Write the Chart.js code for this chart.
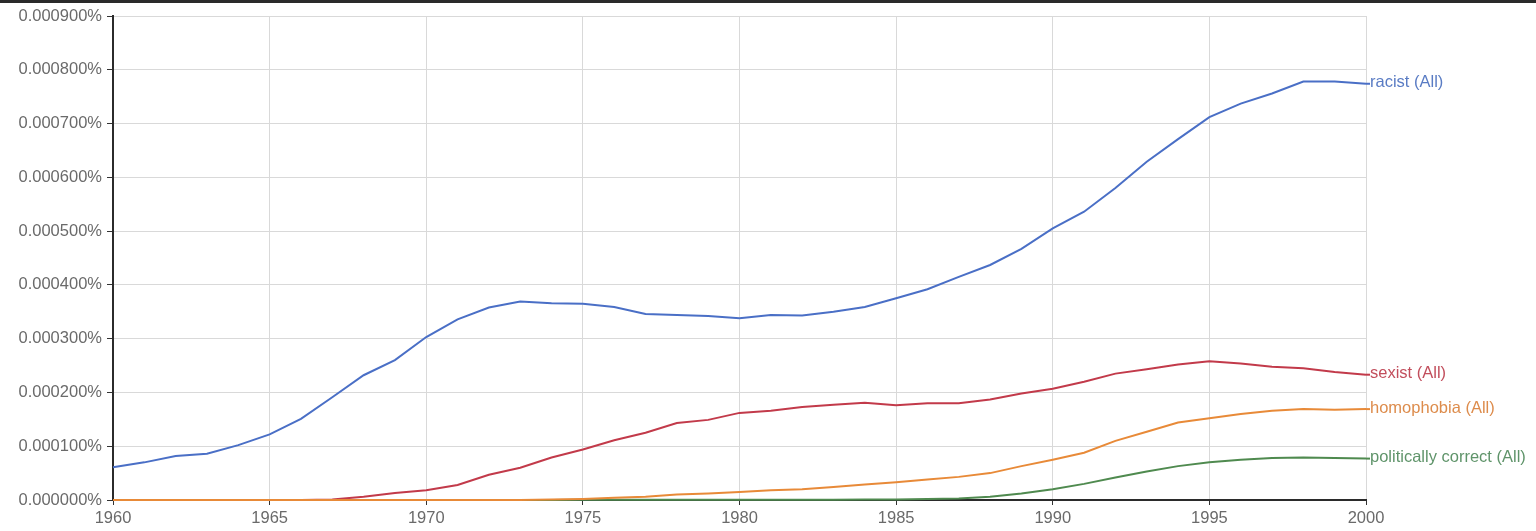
<!DOCTYPE html>
<html>
<head>
<meta charset="utf-8">
<script src="https://cdn.jsdelivr.net/npm/chart.js@4.4.1/dist/chart.umd.min.js"></script>
<style>
  html, body { margin: 0; padding: 0; background: #fff; overflow: hidden; }
  #wrap { width: 1536px; height: 531px; position: relative; }
</style>
</head>
<body>
<div id="wrap"><canvas id="ngram" width="1536" height="531"></canvas></div>
<script>
// years on the x axis
const years = [];
for (let y = 1960; y <= 2000; y++) years.push(y);

// values in percent
const racist = [
  0.0000610, 0.0000700, 0.0000820, 0.0000860, 0.0001020, 0.0001220, 0.0001510, 0.0001910, 0.0002320, 0.0002600,
  0.0003030, 0.0003360, 0.0003580, 0.0003690, 0.0003660, 0.0003650, 0.0003590, 0.0003460, 0.0003440, 0.0003420,
  0.0003380, 0.0003440, 0.0003430, 0.0003500, 0.0003590, 0.0003750, 0.0003920, 0.0004150, 0.0004370, 0.0004670,
  0.0005050, 0.0005360, 0.0005800, 0.0006290, 0.0006710, 0.0007120, 0.0007370, 0.0007560, 0.0007780, 0.0007780,
  0.0007740
];
const sexist = [
  0, 0, 0, 0, 0, 0, 0, 0.0000010, 0.0000060, 0.0000130,
  0.0000180, 0.0000280, 0.0000470, 0.0000600, 0.0000790, 0.0000940, 0.0001110, 0.0001250, 0.0001430, 0.0001490,
  0.0001620, 0.0001660, 0.0001730, 0.0001770, 0.0001810, 0.0001760, 0.0001800, 0.0001800, 0.0001870, 0.0001980,
  0.0002070, 0.0002200, 0.0002350, 0.0002430, 0.0002520, 0.0002580, 0.0002540, 0.0002480, 0.0002450, 0.0002380,
  0.0002330
];
const homophobia = [
  0, 0, 0, 0, 0, 0, 0, 0, 0, 0,
  0, 0, 0, 0, 0.0000010, 0.0000020, 0.0000040, 0.0000060, 0.0000100, 0.0000120,
  0.0000150, 0.0000180, 0.0000200, 0.0000240, 0.0000290, 0.0000330, 0.0000380, 0.0000430, 0.0000500, 0.0000630,
  0.0000750, 0.0000880, 0.0001100, 0.0001270, 0.0001440, 0.0001520, 0.0001600, 0.0001660, 0.0001690, 0.0001680,
  0.0001690
];
const politicallyCorrect = [
  0, 0, 0, 0, 0, 0, 0, 0, 0, 0,
  0, 0, 0, 0, 0, 0.0000005, 0.0000005, 0.0000005, 0.0000005, 0.0000005,
  0.0000005, 0.0000005, 0.0000005, 0.0000005, 0.0000008, 0.0000010, 0.0000020, 0.0000030, 0.0000060, 0.0000120,
  0.0000200, 0.0000300, 0.0000420, 0.0000530, 0.0000630, 0.0000700, 0.0000750, 0.0000780, 0.0000790, 0.0000780,
  0.0000770
];

const seriesNames = ["racist (All)", "sexist (All)", "homophobia (All)", "politically correct (All)"];
const seriesData = [racist, sexist, homophobia, politicallyCorrect];
const lineColors = ["#4a6fc6", "#c23a4a", "#e88a38", "#4f8a4f"];
const textColors = ["#5a7cc4", "#c24e5c", "#dd8c4c", "#5f946a"];
const drawOrder = [1, 2, 0, 3];

const FONT = "'Liberation Sans', Arial, sans-serif";

// dark strip along the top edge of the screenshot
const topStrip = {
  id: "topStrip",
  beforeDraw(chart) {
    const ctx = chart.ctx;
    ctx.save();
    ctx.fillStyle = "#2a2a2a";
    ctx.fillRect(0, 0, chart.width, 3);
    ctx.restore();
  }
};

// label at the right end of each line
const endLabels = {
  id: "endLabels",
  afterDatasetsDraw(chart) {
    const ctx = chart.ctx;
    ctx.save();
    ctx.font = "16.5px " + FONT;
    ctx.textBaseline = "middle";
    chart.data.datasets.forEach((ds, i) => {
      const meta = chart.getDatasetMeta(i);
      const pt = meta.data[meta.data.length - 1];
      if (!pt) return;
      ctx.strokeStyle = ds.borderColor;
      ctx.lineWidth = 2;
      ctx.beginPath();
      ctx.moveTo(pt.x, pt.y);
      ctx.lineTo(pt.x + 4, pt.y);
      ctx.stroke();
      ctx.fillStyle = textColors[i];
      ctx.fillText(ds.label, pt.x + 4, pt.y - 1);
    });
    ctx.restore();
  }
};

const ctx = document.getElementById("ngram").getContext("2d");
const chart = new Chart(ctx, {
  type: "line",
  data: {
    datasets: seriesNames.map((name, i) => ({
      label: name,
      data: years.map((yr, j) => ({ x: yr, y: seriesData[i][j] })),
      borderColor: lineColors[i],
      backgroundColor: lineColors[i],
      borderWidth: 2,
      pointRadius: 0,
      tension: 0,
      clip: false,
      order: drawOrder[i],
    })),
  },
  options: {
    responsive: false,
    animation: false,
    devicePixelRatio: 1,
    layout: {
      padding: { left: 0, right: 170, top: 16, bottom: 0 },
    },
    plugins: {
      legend: { display: false },
      tooltip: { enabled: false },
    },
    scales: {
      x: {
        type: "linear",
        min: 1960,
        max: 2000,
        afterFit: (scale) => { scale.height = 31; },
        ticks: {
          stepSize: 5,
          autoSkip: false,
          maxRotation: 0,
          color: "#6a6a6a",
          padding: 4,
          font: { family: FONT, size: 16.5 },
          callback: (v) => String(v),
        },
        grid: {
          color: "#d9d9d9",
          lineWidth: 1,
          tickLength: 5,
          tickColor: "#333",
        },
        border: { color: "#2b2b2b", width: 2 },
      },
      y: {
        min: 0,
        max: 0.0009,
        afterFit: (scale) => { scale.width = 113; },
        ticks: {
          stepSize: 0.0001,
          autoSkip: false,
          color: "#6a6a6a",
          padding: 5,
          font: { family: FONT, size: 16.5 },
          callback: (v) => v.toFixed(6) + "%",
        },
        grid: {
          color: "#d9d9d9",
          lineWidth: 1,
          tickLength: 6,
          tickColor: "#333",
        },
        border: { color: "#2b2b2b", width: 2 },
      },
    },
  },
  plugins: [topStrip, endLabels],
});
</script>
</body>
</html>
